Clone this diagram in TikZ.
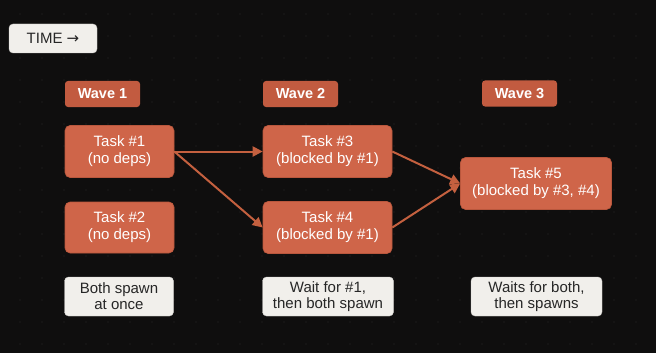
\documentclass[tikz,border=0pt]{standalone}
\usepackage{fontspec}
\setmainfont{Liberation Sans}
\newfontfamily\arrowfont{DejaVu Sans}
\usetikzlibrary{arrows.meta}
\definecolor{bg}{HTML}{0F0E0E}
\definecolor{dotc}{HTML}{2C2A29}
\definecolor{taskfill}{HTML}{CF6549}
\definecolor{taskdraw}{HTML}{B9573D}
\definecolor{wavefill}{HTML}{C25B40}
\definecolor{notefill}{HTML}{F1EFEB}
\definecolor{notetext}{HTML}{262626}
\definecolor{arrowc}{HTML}{C4603F}
\tikzset{
  task/.style={draw=taskdraw, line width=0.6pt, fill=taskfill, rounded corners=5pt, text=white, align=center, inner sep=0pt, font=\fontsize{15}{17}\selectfont},
  wave/.style={fill=wavefill, rounded corners=3pt, text=white, inner sep=0pt, minimum width=75pt, minimum height=26pt, font=\fontsize{14.5}{16}\selectfont\bfseries},
  note/.style={fill=notefill, draw=notefill!85!black, line width=0.4pt, rounded corners=4pt, text=notetext, align=center, inner sep=0pt, minimum height=39pt, font=\fontsize{15}{16}\selectfont},
  conn/.style={draw=arrowc, line width=2pt, -{Triangle[length=10pt, width=10pt]}}
}
\begin{document}
\begin{tikzpicture}[x=1pt, y=-1pt]
\fill[bg] (0,0) rectangle (656,353);
\useasboundingbox (0,0) rectangle (656,353);
\foreach \i in {0,...,29} {
  \foreach \j in {0,...,15} {
    \fill[dotc] ({20+22*\i},{14+22*\j}) circle (0.7pt);
  }
}
\node[note, minimum width=88pt, minimum height=29pt, rounded corners=4pt] (time) at (53,38.5) {TIME {\arrowfont →}};

\node[wave] (w1) at (102.5,94) {Wave 1};
\node[wave] (w2) at (300.5,94) {Wave 2};
\node[wave] (w3) at (519.5,93.5) {Wave 3};

\node[task, minimum width=109pt, minimum height=52pt] (t1) at (119.5,151.5) {Task \#1\\(no deps)};
\node[task, minimum width=109pt, minimum height=51pt] (t2) at (119.5,227.5) {Task \#2\\(no deps)};
\node[task, minimum width=129pt, minimum height=52pt] (t3) at (327.5,151.5) {Task \#3\\(blocked by \#1)};
\node[task, minimum width=129pt, minimum height=52pt] (t4) at (327.5,227.5) {Task \#4\\(blocked by \#1)};
\node[task, minimum width=151pt, minimum height=52pt] (t5) at (536,183.5) {Task \#5\\(blocked by \#3, \#4)};

\node[note, minimum width=109pt] (n1) at (119,296.5) {Both spawn\\at once};
\node[note, minimum width=131pt] (n2) at (328,296.5) {Wait for \#1,\\then both spawn};
\node[note, minimum width=131pt] (n3) at (536.5,296.5) {Waits for both,\\then spawns};

\draw[conn] (t1.east) -- (t3.west);
\draw[conn] (t1.east) -- (t4.west);
\draw[conn] (t3.east) -- (t5.west);
\draw[conn] (t4.east) -- (t5.west);
\end{tikzpicture}
\end{document}
